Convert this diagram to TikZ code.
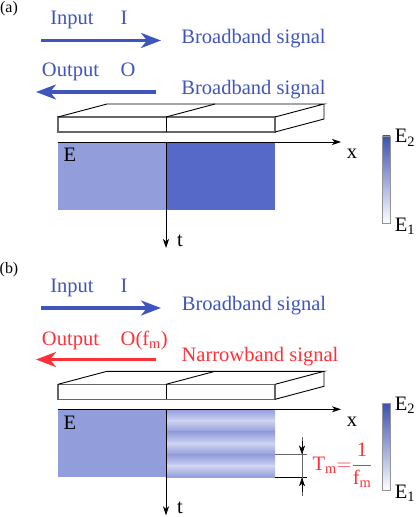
\documentclass[tikz,border=0pt]{standalone}
\usepackage{amsmath}
\usepackage{fontspec}
\setmainfont{Liberation Serif}
\setmathrm{Liberation Serif}
\usetikzlibrary{arrows.meta}
\definecolor{cBlue}{HTML}{3F55BE}
\definecolor{cRed}{HTML}{FF3038}
\definecolor{cLow}{HTML}{929DDB}
\definecolor{cPale}{HTML}{CDD3F1}
\definecolor{cHigh}{HTML}{5669C8}
\definecolor{cFrame}{HTML}{666666}
\tikzset{
  txt/.style={inner sep=0pt, anchor=base},
  beam/.style={line width=3.2bp, -{Stealth[length=20bp,width=15bp,inset=6bp]}},
  axis/.style={line width=0.8bp, -{Stealth[length=9bp,width=6bp,inset=2.5bp]}},
  slab/.style={line width=0.9bp, line join=miter},
}
\newcommand{\panelSlab}[1]{
  \begin{scope}[yshift=-#1]
    \coordinate (fl) at (58,117);
    \coordinate (fr) at (275,117);
    \coordinate (bl) at (58,132);
    \coordinate (br) at (275,132);
    \coordinate (tl) at (107,104);
    \coordinate (tr) at (324,104);
    \coordinate (rb) at (324,119);
    \coordinate (mt) at (166,117);
    \coordinate (mb) at (166,132);
    \coordinate (mk) at (215,104);
    \draw[slab, cFrame, line width=1.3bp] (fl) rectangle (br);
    \draw[slab] (fl) -- (tl) -- (tr) -- (fr);
    \draw[slab] (tr) -- (rb) -- (br);
    \draw[slab] (mt) -- (mk);
    \draw[slab] (mt) -- (mb);
  \end{scope}
}
\newcommand{\panelBar}[1]{
  \begin{scope}[yshift=-#1]
    \draw[cFrame!70, top color=cBlue!95!black, bottom color=white, line width=0.9bp]
      (382.5,136) rectangle (390,223);
    \node[txt] (etop) at (405,143) {E\textsubscript{2}};
    \node[txt] (ebot) at (405,231) {E\textsubscript{1}};
  \end{scope}
}
\newcommand{\panelAxes}[1]{
  \begin{scope}[yshift=-#1]
    \coordinate (ox) at (58,142);
    \coordinate (xe) at (341,142);
    \coordinate (ot) at (166,142);
    \coordinate (te) at (166,248);
    \draw[axis] (ox) -- (xe);
    \draw[axis] (ot) -- (te);
    \node[txt] (lx) at (352,159) {x};
    \node[txt] (lt) at (180,246.5) {t};
    \node[txt] (lE) at (70,162) {E};
  \end{scope}
}

\begin{document}
\begin{tikzpicture}[x=1bp, y=-1bp, font=\fontsize{20.6}{23}\selectfont]
\useasboundingbox (0,0) rectangle (415,517);

% ---- panel a ----
\node[txt] (tagA) at (9,12.7) {\fontsize{16}{18}\selectfont (a)};
\node[txt, text=cBlue] (inA) at (72,25) {Input};
\node[txt, text=cBlue] (iA) at (124,25) {I};
\node[txt, text=cBlue] (bandA) at (253.5,43.5) {Broadband signal};
\node[txt, text=cBlue] (outA) at (70.5,77) {Output};
\node[txt, text=cBlue] (oA) at (128,77) {O};
\node[txt, text=cBlue] (bandB) at (253.5,95) {Broadband signal};
\coordinate (inAs) at (41,40.5);
\coordinate (inAe) at (161,40.5);
\coordinate (outAs) at (156,92);
\coordinate (outAe) at (36,92);
\draw[beam, cBlue] (inAs) -- (inAe);
\draw[beam, cBlue] (outAs) -- (outAe);

\panelSlab{0bp}
\fill[cLow] (58,142) rectangle (166,210);
\fill[cHigh] (166,142) rectangle (275,210);
\panelAxes{0bp}
\panelBar{0bp}

% ---- panel b ----
\node[txt] (tagB) at (9,273) {\fontsize{16}{18}\selectfont (b)};
\node[txt, text=cBlue] (inB) at (72,292) {Input};
\node[txt, text=cBlue] (iB) at (124,292) {I};
\node[txt, text=cBlue] (bandC) at (254,310) {Broadband signal};
\node[txt, text=cRed] (outB) at (70.5,345) {Output};
\node[txt, text=cRed, anchor=base west] (oB) at (120.5,345) {O(f\textsubscript{m})};
\node[txt, text=cRed] (bandD) at (260,361.7) {Narrowband signal};
\coordinate (inBs) at (41,308);
\coordinate (inBe) at (161,308);
\coordinate (outBs) at (156,359.5);
\coordinate (outBe) at (36,359.5);
\draw[beam, cBlue] (inBs) -- (inBe);
\draw[beam, cRed] (outBs) -- (outBe);

\panelSlab{267.3bp}
\fill[cLow] (58,409.3) rectangle (166,477.3);
\foreach \k in {0,1,2}{
  \fill[top color=cLow, bottom color=cPale]
    (166,409.3+\k*22.67) rectangle (275,409.3+\k*22.67+11.34);
  \fill[top color=cPale, bottom color=cLow]
    (166,409.3+\k*22.67+11.33) rectangle (275,409.3+\k*22.67+22.67);
}
\panelAxes{267.3bp}
\panelBar{267.3bp}

% ---- period marks ----
\coordinate (ma) at (275,454.5);
\coordinate (mb) at (307,454.5);
\coordinate (na) at (275,477.3);
\coordinate (nb) at (307,477.3);
\coordinate (pa) at (302,437);
\coordinate (pb) at (302,496);
\coordinate (pc) at (302,441);
\coordinate (pd) at (302,492);
\draw[cFrame, line width=0.9bp] (ma) -- (mb);
\draw[line width=0.9bp] (na) -- (nb);
\draw[cFrame, line width=0.9bp] (pa) -- (pb);
\draw[line width=0.7bp, -{Stealth[length=9bp,width=6bp,inset=2.5bp]}] (pc) -- (ma -| pa);
\draw[line width=0.7bp, -{Stealth[length=9bp,width=6bp,inset=2.5bp]}] (pd) -- (na -| pa);
\node[text=cRed, inner sep=0pt] (period) at (342.5,465.5) {$\mathrm{T_m{=}\dfrac{1}{f_m}}$};
\end{tikzpicture}
\end{document}
